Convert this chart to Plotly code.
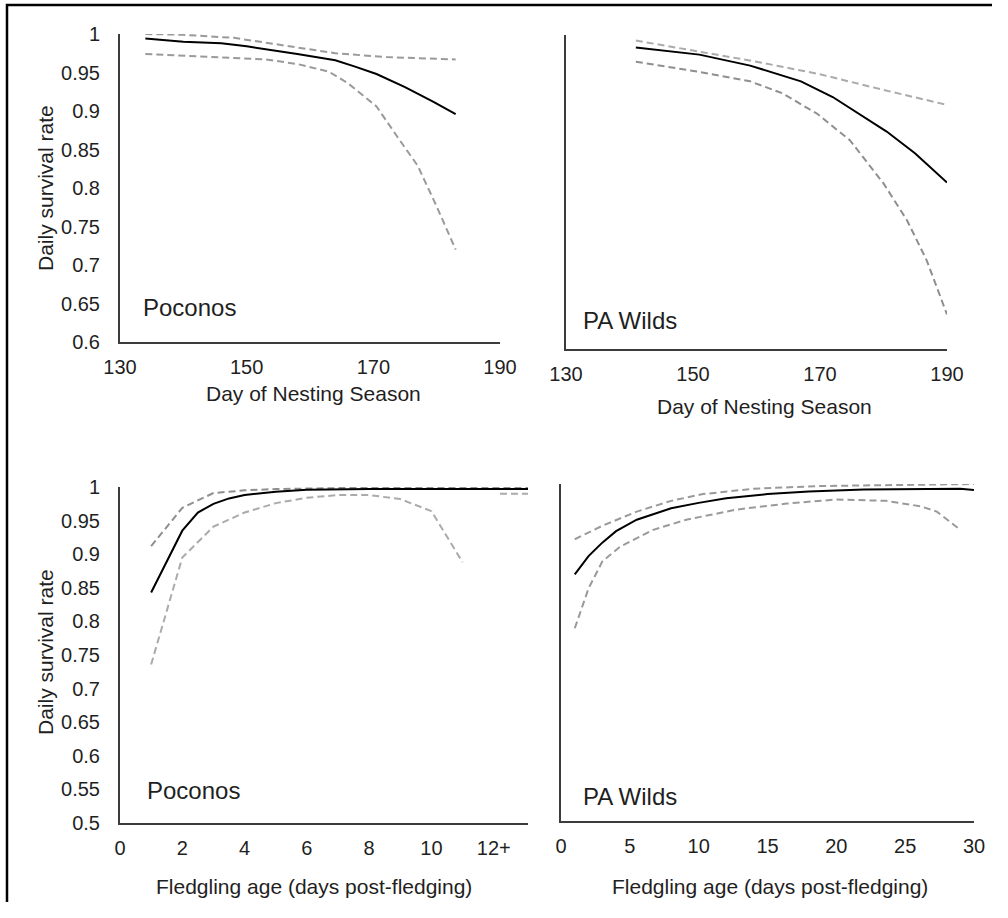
import plotly.graph_objects as go

# ---- Nest survival by day of nesting season ----
poc_day = [134, 140, 146, 150, 158, 164, 167, 170.5, 175, 179.5, 183]
poc_dsr = [0.994, 0.990, 0.988, 0.984, 0.974, 0.966, 0.958, 0.948, 0.931, 0.912, 0.896]
poc_day_hi_x = [134, 140, 148, 156, 164, 172, 183]
poc_day_hi = [1.000, 0.999, 0.995, 0.985, 0.975, 0.970, 0.967]
poc_day_lo_x = [134, 143, 153, 158, 163, 166, 170.5, 174, 177, 180, 183]
poc_day_lo = [0.974, 0.971, 0.967, 0.961, 0.951, 0.936, 0.906, 0.864, 0.829, 0.776, 0.720]

wld_day = [141, 151, 159, 164, 167, 172, 177, 180.5, 185, 190]
wld_dsr = [0.984, 0.975, 0.961, 0.949, 0.941, 0.921, 0.895, 0.877, 0.849, 0.812]
wld_day_hi_x = [141, 151, 160, 170, 180, 190]
wld_day_hi = [0.993, 0.979, 0.966, 0.950, 0.930, 0.911]
wld_day_lo_x = [141, 151, 159, 164, 169.5, 174.7, 180, 183.7, 186.8, 190]
wld_day_lo = [0.966, 0.953, 0.941, 0.926, 0.900, 0.866, 0.811, 0.764, 0.713, 0.644]

# ---- Fledgling survival by age ----
poc_age = [1, 1.5, 2, 2.5, 3, 3.5, 4, 5, 6, 8, 10, 11, 12, 13.1]
poc_age_dsr = [0.843, 0.889, 0.935, 0.962, 0.975, 0.983, 0.988, 0.993, 0.996, 0.997, 0.997, 0.996, 0.997, 0.997]
poc_age_hi_x = [1, 2, 3, 4, 5, 6, 8, 10, 13.1]
poc_age_hi = [0.912, 0.969, 0.991, 0.995, 0.997, 0.998, 0.999, 0.999, 0.999]
poc_age_lo_x = [1, 2, 3, 4, 5, 6, 7, 8, 9, 10, 11]
poc_age_lo = [0.736, 0.895, 0.941, 0.962, 0.976, 0.984, 0.988, 0.988, 0.982, 0.964, 0.888]
poc_age_lo12_x = [12.2, 13.1]
poc_age_lo12 = [0.990, 0.990]

wld_age = [1, 2, 3, 4, 5.5, 8, 10, 12, 15, 18, 22, 26, 29, 30]
wld_age_dsr = [0.866, 0.893, 0.913, 0.930, 0.947, 0.964, 0.972, 0.979, 0.985, 0.989, 0.992, 0.993, 0.993, 0.991]
wld_age_hi_x = [1, 3, 5.5, 8, 10.3, 14, 18.8, 23.6, 30]
wld_age_hi = [0.918, 0.938, 0.959, 0.975, 0.985, 0.993, 0.997, 0.998, 1.000]
wld_age_lo_x = [1, 2, 3, 4.3, 6.7, 9.1, 12.75, 16.4, 20, 23.6, 26.1, 27.3, 29]
wld_age_lo = [0.786, 0.845, 0.885, 0.907, 0.932, 0.947, 0.962, 0.971, 0.977, 0.975, 0.967, 0.959, 0.932]

day_ticks = [130, 150, 170, 190]
dsr_ticks_top = [0.6, 0.65, 0.7, 0.75, 0.8, 0.85, 0.9, 0.95, 1.0]
dsr_ticks_bot = [0.5, 0.55, 0.6, 0.65, 0.7, 0.75, 0.8, 0.85, 0.9, 0.95, 1.0]
age_ticks_poc = [0, 2, 4, 6, 8, 10, 12]
age_labels_poc = ["0", "2", "4", "6", "8", "10", "12+"]
age_ticks_wld = [0, 5, 10, 15, 20, 25, 30]

# figure kept a little smaller than the 1008 x 918 window so the page never scrolls
W, H = 992, 902
FONT = "Liberation Sans, Arial, sans-serif"
TXT = "#1f1f1f"
DASH = "7px,4px"


def fmt(v):
    return f"{v:.2f}".rstrip("0").rstrip(".")


def fx(px):
    """x pixel -> paper fraction"""
    return px / W


def fy(py):
    """y pixel (from top) -> paper fraction"""
    return 1 - py / H


fig = go.Figure()


def add(x, y, ax, color, dash=None, width=2):
    fig.add_trace(go.Scatter(
        x=x, y=y, mode="lines", xaxis=ax[0], yaxis=ax[1],
        line=dict(color=color, width=width, dash=dash),
        showlegend=False, hoverinfo="skip"))


# panel order: (x,y) top-left, (x2,y2) top-right, (x3,y3) bottom-left, (x4,y4) bottom-right
add(poc_day_hi_x, poc_day_hi, ("x", "y"), "#9a9a9a", DASH)
add(poc_day_lo_x, poc_day_lo, ("x", "y"), "#9a9a9a", DASH)
add(poc_day, poc_dsr, ("x", "y"), "#000000")

add(wld_day_hi_x, wld_day_hi, ("x2", "y2"), "#ababab", DASH)
add(wld_day_lo_x, wld_day_lo, ("x2", "y2"), "#8f8f8f", DASH)
add(wld_day, wld_dsr, ("x2", "y2"), "#000000")

add(poc_age_hi_x, poc_age_hi, ("x3", "y3"), "#8f8f8f", DASH)
add(poc_age_lo_x, poc_age_lo, ("x3", "y3"), "#ababab", DASH)
add(poc_age_lo12_x, poc_age_lo12, ("x3", "y3"), "#ababab", DASH)
add(poc_age, poc_age_dsr, ("x3", "y3"), "#000000")

add(wld_age_hi_x, wld_age_hi, ("x4", "y4"), "#9a9a9a", DASH)
add(wld_age_lo_x, wld_age_lo, ("x4", "y4"), "#9a9a9a", DASH)
add(wld_age, wld_age_dsr, ("x4", "y4"), "#000000")


def dom_x(a, b):
    return [fx(a), fx(b)]


def dom_y(top, bottom):
    return [fy(bottom), fy(top)]


base = dict(showgrid=False, zeroline=False, showline=True, linecolor="#3c3c3c",
            linewidth=2, ticks="outside", tickcolor="rgba(0,0,0,0)", automargin=False,
            tickfont=dict(family=FONT, size=20, color=TXT), fixedrange=True)

xb = dict(base, ticklen=6)
yb = dict(base, ticklen=14)

fig.update_layout(
    width=W, height=H, margin=dict(l=0, r=0, t=0, b=0, pad=0),
    paper_bgcolor="white", plot_bgcolor="white",
    font=dict(family=FONT, color=TXT),
    xaxis=dict(xb, domain=dom_x(120, 500), range=[130, 190], tickvals=day_ticks, anchor="y"),
    yaxis=dict(yb, domain=dom_y(34, 342), range=[0.6, 1.0], tickvals=dsr_ticks_top,
               ticktext=[fmt(v) for v in dsr_ticks_top], anchor="x"),
    xaxis2=dict(xb, domain=dom_x(566, 947), range=[130, 190], tickvals=day_ticks, anchor="y2"),
    yaxis2=dict(yb, domain=dom_y(35, 349), range=[0.6, 1.0], showticklabels=False, anchor="x2"),
    xaxis3=dict(xb, domain=dom_x(120, 528), range=[0, 13.1], tickvals=age_ticks_poc,
                ticktext=age_labels_poc, anchor="y3"),
    yaxis3=dict(yb, domain=dom_y(487, 823), range=[0.5, 1.0], tickvals=dsr_ticks_bot,
                ticktext=[fmt(v) for v in dsr_ticks_bot], anchor="x3"),
    xaxis4=dict(xb, domain=dom_x(561, 974), range=[0, 30], tickvals=age_ticks_wld, anchor="y4"),
    yaxis4=dict(yb, domain=dom_y(484, 821), range=[0.5, 1.0], showticklabels=False, anchor="x4"),
)


def label(text, x, y, size, angle=0, xanchor="center"):
    fig.add_annotation(text=text, x=fx(x), y=fy(y), xref="paper", yref="paper",
                       showarrow=False, textangle=angle, xanchor=xanchor, yanchor="middle",
                       font=dict(family=FONT, size=size, color=TXT))


# axis titles
label("Daily survival rate", 45, 188, 21, angle=-90)
label("Daily survival rate", 45, 652, 21, angle=-90)
label("Day of Nesting Season", 313, 394, 21)
label("Day of Nesting Season", 764, 406, 21)
label("Fledgling age (days post-fledging)", 314, 886, 21)
label("Fledgling age (days post-fledging)", 770, 886, 21)

# region labels inside each panel
label("Poconos", 141, 307, 24, xanchor="left")
label("PA Wilds", 581, 320, 24, xanchor="left")
label("Poconos", 145, 790, 24, xanchor="left")
label("PA Wilds", 581, 796, 24, xanchor="left")

# outer frame
fig.add_shape(type="rect", xref="paper", yref="paper",
              x0=fx(7), x1=1.02, y0=-0.02, y1=fy(5),
              line=dict(color="black", width=2.5), fillcolor="rgba(0,0,0,0)")

fig.write_html("out.html")
